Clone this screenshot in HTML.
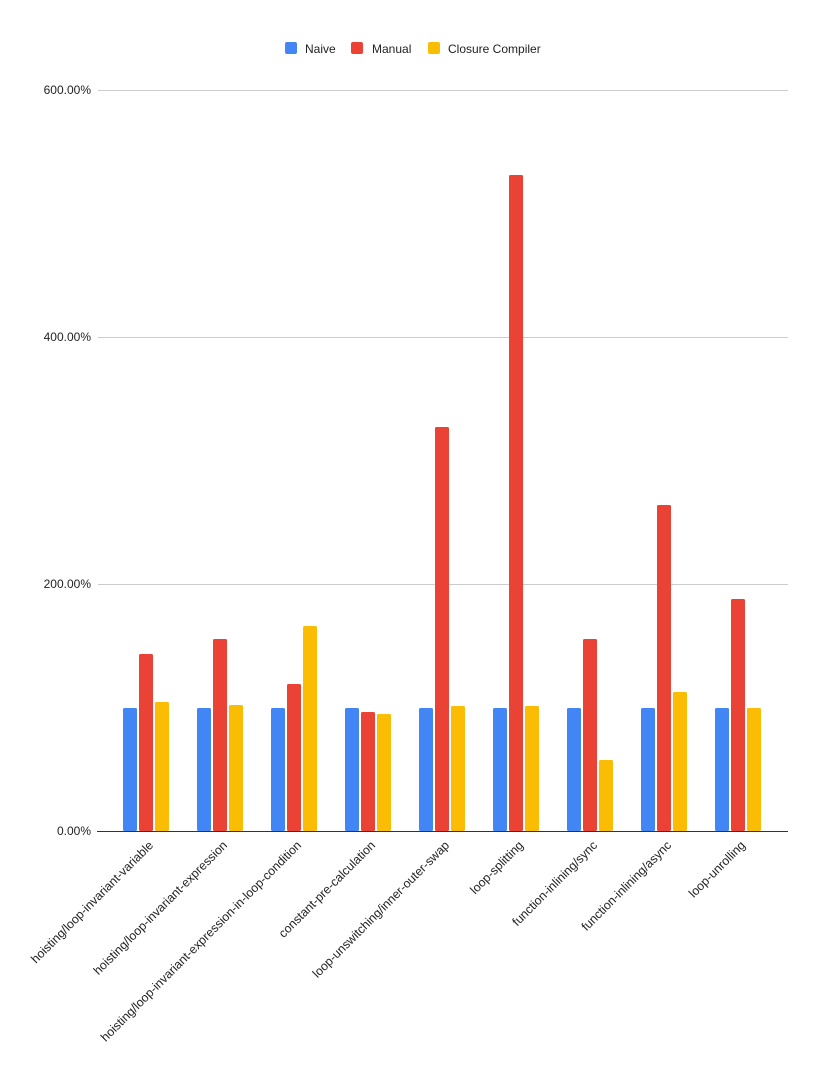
<!DOCTYPE html>
<html><head><style>body{margin:0;background:#fff}</style></head><body>
<svg width="830" height="1084" xmlns="http://www.w3.org/2000/svg" font-family="Liberation Sans, sans-serif">
<rect width="830" height="1084" fill="#fff"/>
<g font-size="12" fill="#222">
<rect x="285" y="42" width="12" height="12" rx="2" fill="#4285F4"/><text x="305" y="53">Naive</text>
<rect x="351" y="42" width="12" height="12" rx="2" fill="#EA4335"/><text x="372" y="53">Manual</text>
<rect x="428" y="42" width="12" height="12" rx="2" fill="#FBBC04"/><text x="448" y="53">Closure Compiler</text>
</g>
<g stroke="#ccc" stroke-width="1">
<line x1="98" y1="90.5" x2="788" y2="90.5"/><line x1="98" y1="337.5" x2="788" y2="337.5"/><line x1="98" y1="584.5" x2="788" y2="584.5"/>
</g>
<g font-size="12" fill="#222" text-anchor="end">
<text x="91" y="94">600.00%</text><text x="91" y="341">400.00%</text><text x="91" y="588">200.00%</text><text x="91" y="835">0.00%</text>
</g>
<g>
<rect x="123" y="708" width="14" height="123" rx="1.5" fill="#4285F4"/><rect x="139" y="654" width="14" height="177" rx="1.5" fill="#EA4335"/><rect x="155" y="702" width="14" height="129" rx="1.5" fill="#FBBC04"/>
<rect x="197" y="708" width="14" height="123" rx="1.5" fill="#4285F4"/><rect x="213" y="639" width="14" height="192" rx="1.5" fill="#EA4335"/><rect x="229" y="705" width="14" height="126" rx="1.5" fill="#FBBC04"/>
<rect x="271" y="708" width="14" height="123" rx="1.5" fill="#4285F4"/><rect x="287" y="684" width="14" height="147" rx="1.5" fill="#EA4335"/><rect x="303" y="626" width="14" height="205" rx="1.5" fill="#FBBC04"/>
<rect x="345" y="708" width="14" height="123" rx="1.5" fill="#4285F4"/><rect x="361" y="712" width="14" height="119" rx="1.5" fill="#EA4335"/><rect x="377" y="714" width="14" height="117" rx="1.5" fill="#FBBC04"/>
<rect x="419" y="708" width="14" height="123" rx="1.5" fill="#4285F4"/><rect x="435" y="427" width="14" height="404" rx="1.5" fill="#EA4335"/><rect x="451" y="706" width="14" height="125" rx="1.5" fill="#FBBC04"/>
<rect x="493" y="708" width="14" height="123" rx="1.5" fill="#4285F4"/><rect x="509" y="175" width="14" height="656" rx="1.5" fill="#EA4335"/><rect x="525" y="706" width="14" height="125" rx="1.5" fill="#FBBC04"/>
<rect x="567" y="708" width="14" height="123" rx="1.5" fill="#4285F4"/><rect x="583" y="639" width="14" height="192" rx="1.5" fill="#EA4335"/><rect x="599" y="760" width="14" height="71" rx="1.5" fill="#FBBC04"/>
<rect x="641" y="708" width="14" height="123" rx="1.5" fill="#4285F4"/><rect x="657" y="505" width="14" height="326" rx="1.5" fill="#EA4335"/><rect x="673" y="692" width="14" height="139" rx="1.5" fill="#FBBC04"/>
<rect x="715" y="708" width="14" height="123" rx="1.5" fill="#4285F4"/><rect x="731" y="599" width="14" height="232" rx="1.5" fill="#EA4335"/><rect x="747" y="708" width="14" height="123" rx="1.5" fill="#FBBC04"/>
</g>
<line x1="97" y1="831.5" x2="788" y2="831.5" stroke="#333" stroke-width="1"/>
<g font-size="12.3" fill="#222" text-anchor="end">
<text transform="translate(154,846) rotate(-45)">hoisting/loop-invariant-variable</text>
<text transform="translate(228,846) rotate(-45)">hoisting/loop-invariant-expression</text>
<text transform="translate(302,846) rotate(-45)">hoisting/loop-invariant-expression-in-loop-condition</text>
<text transform="translate(376,846) rotate(-45)">constant-pre-calculation</text>
<text transform="translate(450,846) rotate(-45)">loop-unswitching/inner-outer-swap</text>
<text transform="translate(524,846) rotate(-45)">loop-splitting</text>
<text transform="translate(598,846) rotate(-45)">function-inlining/sync</text>
<text transform="translate(672,846) rotate(-45)">function-inlining/async</text>
<text transform="translate(746,846) rotate(-45)">loop-unrolling</text>
</g>
</svg>
</body></html>
